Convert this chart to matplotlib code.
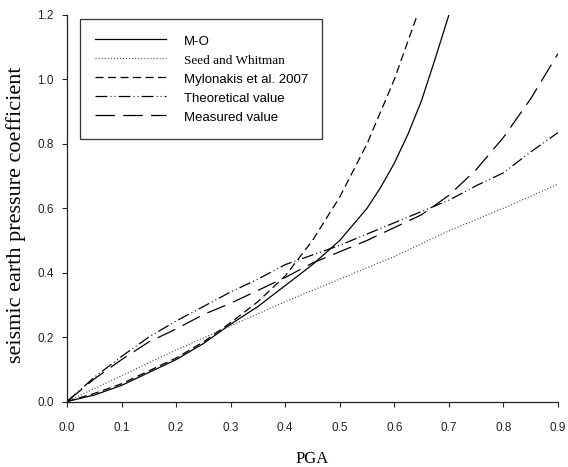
import matplotlib
matplotlib.use("Agg")
import matplotlib.pyplot as plt

plt.rcParams['font.family'] = ['Liberation Sans', 'DejaVu Sans']
plt.rcParams['lines.scale_dashes'] = False

# values
x_mo = [0, 0.05, 0.1, 0.15, 0.2, 0.25, 0.3, 0.35, 0.4, 0.45, 0.5, 0.55,
        0.575, 0.6, 0.625, 0.65, 0.675, 0.7]
y_mo = [0, 0.02, 0.05, 0.09, 0.13, 0.18, 0.24, 0.295, 0.36, 0.425, 0.5, 0.6,
        0.665, 0.74, 0.83, 0.935, 1.065, 1.2]

x_seed = [0, 0.1, 0.2, 0.3, 0.4, 0.5, 0.6, 0.7, 0.8, 0.9]
y_seed = [0, 0.08, 0.16, 0.235, 0.31, 0.38, 0.45, 0.53, 0.6, 0.675]

x_myl = [0, 0.05, 0.1, 0.15, 0.2, 0.25, 0.3, 0.35, 0.4, 0.45, 0.5, 0.55, 0.6, 0.642]
y_myl = [0, 0.025, 0.055, 0.095, 0.135, 0.185, 0.245, 0.31, 0.39, 0.5, 0.635, 0.8, 1.0, 1.2]

x_all = [0, 0.05, 0.1, 0.15, 0.2, 0.25, 0.3, 0.35, 0.4, 0.45, 0.5,
         0.55, 0.6, 0.65, 0.7, 0.75, 0.8, 0.85, 0.9]
y_theo = [0, 0.075, 0.14, 0.2, 0.25, 0.295, 0.34, 0.38, 0.425, 0.455, 0.485,
          0.52, 0.555, 0.59, 0.625, 0.67, 0.71, 0.775, 0.835]
y_meas = [0, 0.07, 0.13, 0.185, 0.225, 0.27, 0.305, 0.345, 0.385, 0.43, 0.465,
          0.5, 0.54, 0.58, 0.64, 0.72, 0.82, 0.94, 1.08]

x_ticks = [0.0, 0.1, 0.2, 0.3, 0.4, 0.5, 0.6, 0.7, 0.8, 0.9]
y_ticks = [0.0, 0.2, 0.4, 0.6, 0.8, 1.0, 1.2]

fig = plt.figure(figsize=(5.68, 4.67), dpi=100)
ax = fig.add_axes([67/568, 65.5/467, 491/568, 386.5/467])

lw = 0.9
ax.plot(x_mo, y_mo, color='black', lw=lw, label='M-O')
ax.plot(x_seed, y_seed, color='#444444', lw=lw, linestyle=(0, (0.7, 1.5)),
        label='Seed and Whitman')
ax.plot(x_myl, y_myl, color='black', lw=lw, linestyle=(0, (5.8, 3.2)),
        label='Mylonakis et al. 2007')
ax.plot(x_all, y_theo, color='black', lw=lw,
        linestyle=(0, (8.6, 2.2, 0.7, 2.2, 0.7, 2.2)), label='Theoretical value')
ax.plot(x_all, y_meas, color='black', lw=lw, linestyle=(0, (14, 6)),
        label='Measured value')

ax.set_xlim(0, 0.9)
ax.set_ylim(0, 1.2)
ax.set_xticks(x_ticks)
ax.set_yticks(y_ticks)
ax.set_xticklabels(['%.1f' % v for v in x_ticks])
ax.set_yticklabels(['%.1f' % v for v in y_ticks])

for side in ['top', 'right']:
    ax.spines[side].set_visible(False)
for side in ['left', 'bottom']:
    ax.spines[side].set_linewidth(0.9)
    ax.spines[side].set_color('#222222')
ax.tick_params(axis='both', direction='out', length=3.6, width=0.8,
               labelsize=8.5, colors='#222222')
ax.tick_params(axis='x', pad=11)
ax.tick_params(axis='y', pad=6)

ax.set_xlabel('PGA', fontsize=12, family='Liberation Serif')
ax.xaxis.set_label_coords(0.5, -0.127)
ax.set_ylabel('seismic earth pressure coefficient', fontsize=16,
              family='Liberation Serif')
ax.yaxis.set_label_coords(-0.083, 0.483)

leg = ax.legend(loc='upper left', bbox_to_anchor=(80/568, 1 - 19/467),
                bbox_transform=fig.transFigure, borderaxespad=0,
                fontsize=9.5, frameon=True, fancybox=False, shadow=False,
                handlelength=5.4, handletextpad=1.36, handleheight=1.3,
                labelspacing=0.33, borderpad=1.1)
leg.get_frame().set_edgecolor('black')
leg.get_frame().set_linewidth(0.9)
leg.get_texts()[1].set_family('Liberation Serif')

fig.savefig('out.png', dpi=100)
